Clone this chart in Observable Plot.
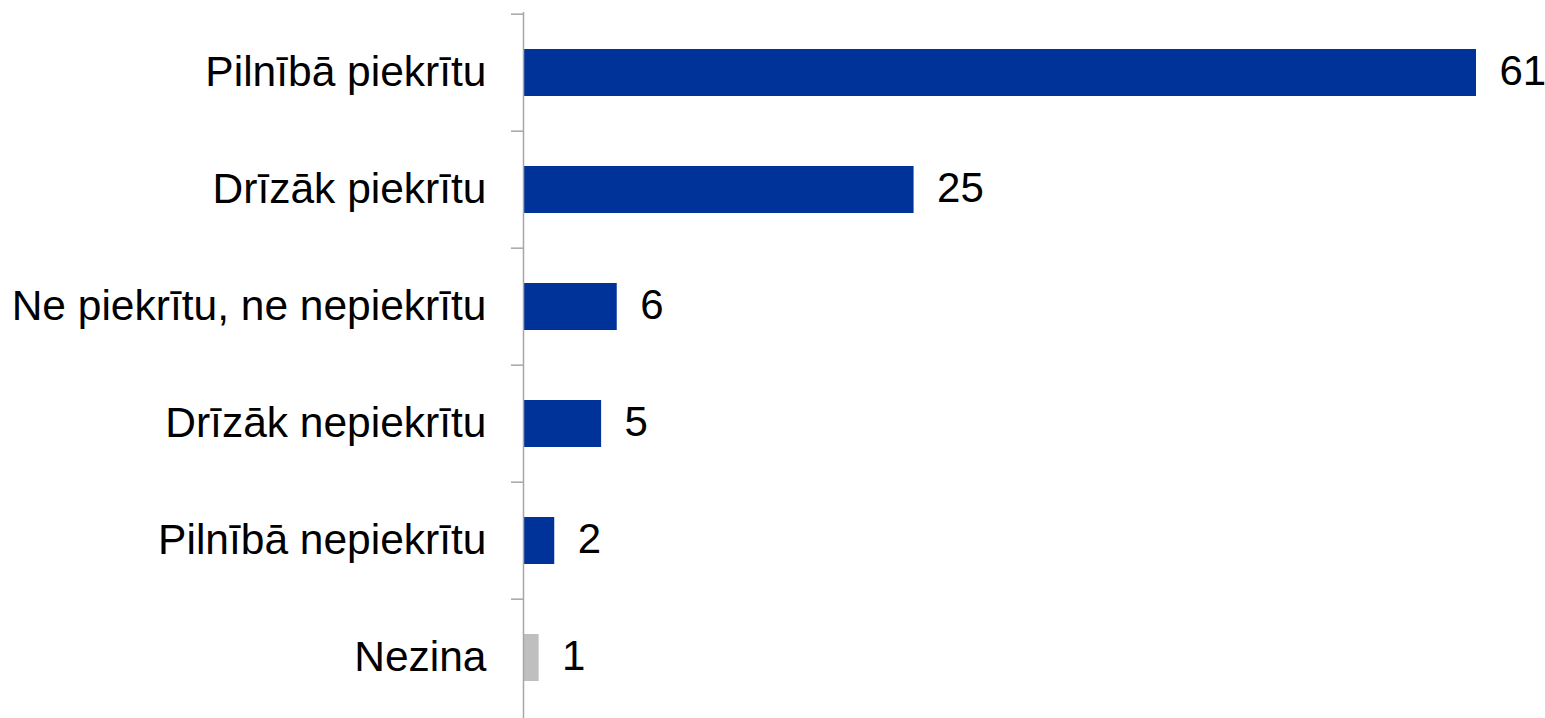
<!DOCTYPE html>
<html>
<head>
<meta charset="utf-8">
<script src="https://cdn.jsdelivr.net/npm/d3@7"></script>
<script src="https://cdn.jsdelivr.net/npm/@observablehq/plot@0.6"></script>
<style>
  html, body { margin: 0; padding: 0; background: #ffffff; }
  #chart svg { display: block; }
</style>
</head>
<body>
<div id="chart"></div>
<script>
const categories = [
  "Pilnībā piekrītu",
  "Drīzāk piekrītu",
  "Ne piekrītu, ne nepiekrītu",
  "Drīzāk nepiekrītu",
  "Pilnībā nepiekrītu",
  "Nezina"
];
const values = [61, 25, 6, 5, 2, 1];
const groups = ["answer", "answer", "answer", "answer", "answer", "unknown"];

const data = categories.map((c, i) => ({category: c, value: values[i], group: groups[i]}));

const width = 1545;
const height = 718;
const marginTop = 12;
const marginBottom = 0;
const step = (height - marginTop - marginBottom) / categories.length;
const font = "'Liberation Sans', Arial, sans-serif";

const chart = Plot.plot({
  width,
  height,
  marginTop,
  marginBottom,
  marginLeft: 523,
  marginRight: 69,
  style: {fontFamily: font, background: "#ffffff", color: "#000000"},
  x: {domain: [0, 61], axis: null},
  y: {domain: categories, paddingInner: 0.6, paddingOuter: 0.3, axis: null},
  color: {domain: ["answer", "unknown"], range: ["#003399", "#bfbfbf"]},
  marks: [
    Plot.barX(data, {x: "value", y: "category", fill: "group", insetLeft: 1}),
    Plot.text(data, {
      x: "value", y: "category", text: d => String(d.value),
      textAnchor: "start", dx: 23, dy: -1, fontSize: 42, fill: "#000000"
    }),
    Plot.ruleX([0], {stroke: "#a6a6a6", strokeWidth: 1.5}),
    Plot.axisY({
      anchor: "left", tickSize: 12, fill: "none", stroke: "#a6a6a6",
      strokeWidth: 1.5, dy: -step / 2, label: null
    }),
    Plot.axisY({
      anchor: "left", tickSize: 0, tickPadding: 37, fontSize: 42.5, dy: -1,
      fill: "#000000", label: null
    })
  ]
});

document.getElementById("chart").appendChild(chart);
</script>
</body>
</html>
